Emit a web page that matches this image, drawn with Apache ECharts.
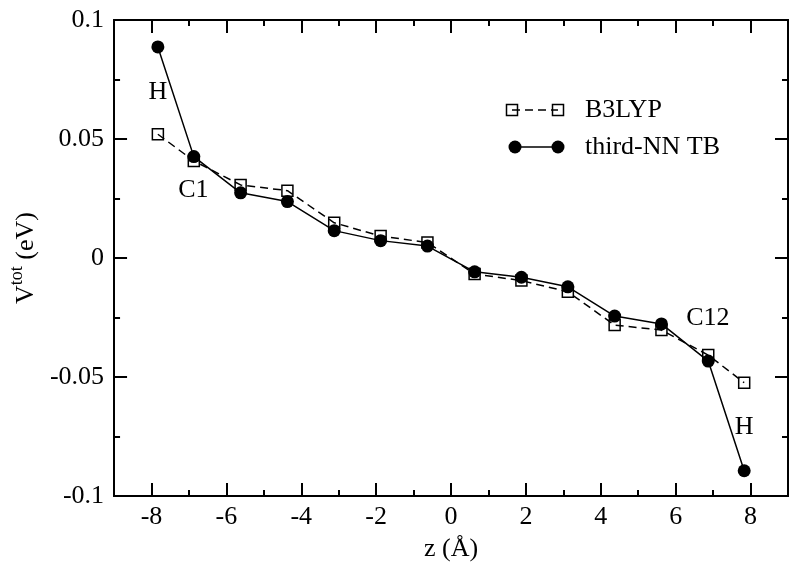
<!DOCTYPE html>
<html>
<head>
<meta charset="utf-8">
<script src="https://cdn.jsdelivr.net/npm/echarts@6/dist/echarts.min.js"></script>
<style>html,body{margin:0;padding:0;background:#fff;}#c{width:800px;height:570px;}</style>
</head>
<body>
<div id="c"></div>
<script>
const zPos = [-7.83, -6.87, -5.62, -4.37, -3.12, -1.88, -0.63, 0.63, 1.88, 3.12, 4.37, 5.62, 6.87, 7.83];
const b3lyp = [0.0520, 0.0408, 0.0307, 0.0283, 0.0148, 0.0092, 0.0065, -0.0067, -0.0095, -0.0142, -0.0282, -0.0303, -0.0408, -0.0524];
const tbNN = [0.0887, 0.0426, 0.0274, 0.0237, 0.0115, 0.0073, 0.0050, -0.0058, -0.0081, -0.0121, -0.0244, -0.0277, -0.0433, -0.0894];
const seriesNames = ['B3LYP', 'third-NN TB'];
const xMajor = [-8, -6, -4, -2, 0, 2, 4, 6, 8];
const xMinor = [-9, -7, -5, -3, -1, 1, 3, 5, 7, 9];
const annText = ['H', 'C1', 'C12', 'H'];
const annX = [-7.83, -6.88, 6.86, 7.83];
const annY = [0.0695, 0.0286, -0.0253, -0.0709];

const FONT = 'Liberation Serif';
const chart = echarts.init(document.getElementById('c'));

function xAx(pos, vals, len, showLabel, name) {
  return {
    type: 'value', position: pos, min: -9, max: 9,
    name: name || '', nameLocation: 'middle', nameGap: 40,
    nameTextStyle: {fontFamily: FONT, fontSize: 26, color: '#000'},
    axisLine: {show: true, onZero: false, lineStyle: {color: '#000', width: 2}},
    axisTick: {show: true, inside: true, length: len, customValues: vals, lineStyle: {color: '#000', width: 2}},
    axisLabel: {show: showLabel, customValues: vals, margin: 8, fontFamily: FONT, fontSize: 26, color: '#000'},
    splitLine: {show: false}
  };
}
function yAx(pos, showLabel) {
  return {
    type: 'value', position: pos, min: -0.1, max: 0.1, interval: 0.05,
    name: showLabel ? '{v|V}{s|tot}{v| (eV)}' : '',
    nameLocation: 'middle', nameGap: 72, nameRotate: 90,
    nameTextStyle: {fontFamily: FONT, fontSize: 26, color: '#000',
      rich: {
        v: {fontFamily: FONT, fontSize: 26, color: '#000', verticalAlign: 'bottom'},
        s: {fontFamily: FONT, fontSize: 18, color: '#000', verticalAlign: 'bottom', padding: [0, 0, 13, 0]}
      }},
    axisLine: {show: true, onZero: false, lineStyle: {color: '#000', width: 2}},
    axisTick: {show: true, inside: true, length: 13, lineStyle: {color: '#000', width: 2}},
    minorTick: {show: true, splitNumber: 2, length: 6, lineStyle: {color: '#000', width: 2}},
    axisLabel: {show: showLabel, margin: 10, fontFamily: FONT, fontSize: 26, color: '#000'},
    splitLine: {show: false}, minorSplitLine: {show: false}
  };
}

const legendY = [110, 147];
chart.setOption({
  animation: false,
  backgroundColor: '#fff',
  grid: {left: 107, right: 12, top: 20, bottom: 74},
  xAxis: [
    xAx('bottom', xMajor, 13, true, 'z (Å)'),
    xAx('bottom', xMinor, 6, false),
    xAx('top', xMajor, 13, false),
    xAx('top', xMinor, 6, false)
  ],
  yAxis: [yAx('left', true), yAx('right', false)],
  series: [
    {
      name: seriesNames[0], type: 'line', xAxisIndex: 0, yAxisIndex: 0,
      data: zPos.map((x, i) => [x, b3lyp[i]]),
      symbol: 'rect', symbolSize: 11,
      lineStyle: {color: '#000', width: 1.5, type: [8, 5]},
      itemStyle: {color: 'rgba(0,0,0,0)', borderColor: '#000', borderWidth: 1.5},
      z: 3
    },
    {
      name: seriesNames[1], type: 'line', xAxisIndex: 0, yAxisIndex: 0,
      data: zPos.map((x, i) => [x, tbNN[i]]),
      symbol: 'circle', symbolSize: 13,
      lineStyle: {color: '#000', width: 1.5},
      itemStyle: {color: '#000', borderColor: '#000', borderWidth: 0},
      z: 4
    },
    {
      name: 'labels', type: 'scatter', xAxisIndex: 0, yAxisIndex: 0,
      symbolSize: 1, silent: true, itemStyle: {opacity: 0},
      data: annText.map((t, i) => ({value: [annX[i], annY[i]], name: t})),
      label: {show: true, position: 'inside', formatter: p => p.name, fontFamily: FONT, fontSize: 26, color: '#000', textBorderWidth: 0, opacity: 1},
      z: 5
    }
  ],
  graphic: [
    {type: 'line', shape: {x1: 512, y1: legendY[0], x2: 558, y2: legendY[0]}, style: {stroke: '#000', lineWidth: 1.5, lineDash: [8, 5]}},
    {type: 'rect', shape: {x: 506.5, y: legendY[0] - 5.5, width: 11, height: 11}, style: {fill: 'rgba(0,0,0,0)', stroke: '#000', lineWidth: 1.5}},
    {type: 'rect', shape: {x: 552.5, y: legendY[0] - 5.5, width: 11, height: 11}, style: {fill: 'rgba(0,0,0,0)', stroke: '#000', lineWidth: 1.5}},
    {type: 'text', x: 585, y: legendY[0], style: {text: seriesNames[0], font: '26px "Liberation Serif"', fill: '#000', verticalAlign: 'middle'}},
    {type: 'line', shape: {x1: 515, y1: legendY[1], x2: 558, y2: legendY[1]}, style: {stroke: '#000', lineWidth: 1.5}},
    {type: 'circle', shape: {cx: 515, cy: legendY[1], r: 6.5}, style: {fill: '#000'}},
    {type: 'circle', shape: {cx: 558, cy: legendY[1], r: 6.5}, style: {fill: '#000'}},
    {type: 'text', x: 585, y: legendY[1], style: {text: seriesNames[1], font: '26px "Liberation Serif"', fill: '#000', verticalAlign: 'middle'}}
  ]
});
</script>
</body>
</html>
